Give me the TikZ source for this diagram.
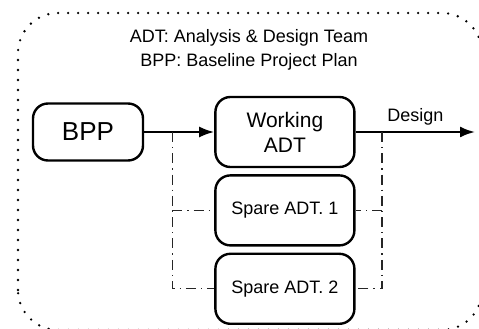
\documentclass[tikz,border=0pt]{standalone}
\usepackage{fontspec}
\setmainfont{Liberation Sans}
\usetikzlibrary{arrows.meta,positioning,calc}
\begin{document}
\begin{tikzpicture}[x=1pt,y=1pt,>={Latex[length=15pt,width=11pt]},
teambox/.style={draw,line width=2.4pt,rounded corners=15pt,align=center,minimum width=139pt,minimum height=70pt,inner sep=0pt},
backupline/.style={line width=1.3pt,black!85,dash pattern=on 10pt off 5pt on 1.3pt off 5pt}]
\useasboundingbox (0,0) rectangle (479,329);
\draw[line width=2.6pt,line cap=round,dash pattern=on 0pt off 10pt,rounded corners=40pt] (18,-1) rectangle (482,316);
\node[align=center,font=\fontsize{18}{24}\selectfont] (legend) at (249,279) {ADT: Analysis \& Design Team\\BPP: Baseline Project Plan};
\node[teambox,minimum width=110pt,minimum height=57pt,font=\fontsize{26}{30}\selectfont] (bpp) at (88,197) {BPP};
\node[teambox,right=70pt of bpp,font=\fontsize{21}{25}\selectfont] (work) {Working\\ADT};
\node[teambox,below=6pt of work,font=\fontsize{18}{22}\selectfont] (spare1) {Spare ADT. 1};
\node[teambox,below=6pt of spare1,font=\fontsize{18}{22}\selectfont] (spare2) {Spare ADT. 2};
\coordinate (design) at (475,197);
\draw[->,line width=2.2pt] (bpp) -- (work);
\draw[->,line width=2.2pt] (work) -- (design) node[midway,above=2pt,font=\fontsize{18}{22}\selectfont] {Design};
% stand-by teams
\coordinate (lsplit) at ($(bpp.east)!.4!(work.west)$);
\coordinate (rsplit) at ($(work.east)!.22!(design)$);
\draw[backupline] (lsplit) |- (spare2.west);
\draw[backupline] (lsplit |- spare1.west) -- (spare1.west);
\draw[backupline] (rsplit) |- (spare2.east);
\draw[backupline] (rsplit |- spare1.east) -- (spare1.east);
\end{tikzpicture}
\end{document}
